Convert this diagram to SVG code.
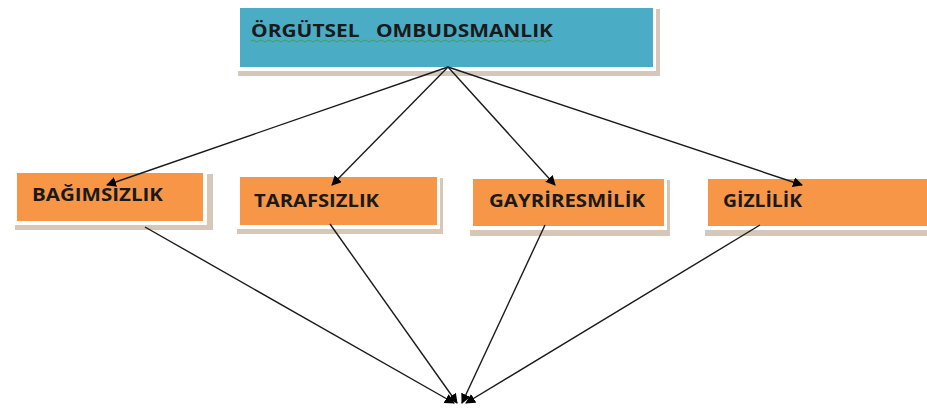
<svg xmlns="http://www.w3.org/2000/svg" width="927" height="411" viewBox="0 0 927 411">
<defs>
<style>
.shadow{fill:#d6c7b8}
.edge{fill:#ffffff}
.top{fill:#4bacc6}
.org{fill:#f79646}
.lbl{font-family:"Open Sans",Lato,"Liberation Sans",sans-serif;font-weight:bold;fill:#1a1a1a;white-space:pre}
.conn{stroke:#1a1a1a;stroke-width:1.4;fill:none;marker-end:url(#ah)}
</style>
<marker id="ah" viewBox="0 0 10 10" refX="9" refY="5" markerWidth="10" markerHeight="10" markerUnits="userSpaceOnUse" orient="auto">
<path d="M0,0 L10,5 L0,10 z" fill="#000"/>
</marker>
</defs>
<rect width="927" height="411" fill="#ffffff"/>
<g id="n-ombudsmanlik">
<rect class="shadow" x="238" y="9" width="422" height="67"/>
<rect class="edge" x="236" y="5" width="420" height="66"/>
<rect class="top" x="240" y="8" width="413" height="59"/>
<text class="lbl" x="251" y="37" font-size="17" textLength="302" lengthAdjust="spacingAndGlyphs" fill="#0d1b33" xml:space="preserve">ÖRGÜTSEL   OMBUDSMANLIK</text>
<path d="M251,41 q2,-2 4,0 t4,0 t4,0 t4,0 t4,0 t4,0 t4,0 t4,0 t4,0 t4,0 t4,0 t4,0 t4,0 t4,0 t4,0 t4,0 t4,0 t4,0 t4,0 t4,0 t4,0 t4,0 t4,0 t4,0 t4,0 t4,0 t4,0 t4,0 t4,0 t4,0 t4,0 t4,0 t4,0 t4,0 t4,0 t4,0 t4,0 t4,0 t4,0 t4,0 t4,0 t4,0 t4,0 t4,0 t4,0 t4,0 t4,0 t4,0 t4,0 t4,0 t4,0 t4,0 t4,0 t4,0 t4,0 t4,0 t4,0 t4,0 t4,0 t4,0 t4,0 t4,0 t4,0 t4,0 t4,0 t4,0 t4,0 t4,0 t4,0 t4,0 t4,0 t4,0 t4,0 t4,0 t4,0" fill="none" stroke="#3fa34d" stroke-width="1"/>
</g>
<g id="n-bagimsizlik">
<rect class="shadow" x="15" y="174" width="198" height="56"/>
<rect class="edge" x="14" y="170" width="193" height="55"/>
<rect class="org" x="17" y="173" width="186" height="48"/>
<text class="lbl" x="32" y="201" font-size="18" textLength="131" lengthAdjust="spacingAndGlyphs">BAĞIMSIZLIK</text>
</g>
<g id="n-tarafsizlik">
<rect class="shadow" x="237" y="178" width="206" height="56"/>
<rect class="edge" x="236" y="174" width="204" height="55"/>
<rect class="org" x="240" y="177" width="197" height="48"/>
<text class="lbl" x="254" y="207" font-size="18" textLength="125" lengthAdjust="spacingAndGlyphs">TARAFSIZLIK</text>
</g>
<g id="n-gayriresmilik">
<rect class="shadow" x="470" y="180" width="200" height="56"/>
<rect class="edge" x="469" y="176" width="198" height="54"/>
<rect class="org" x="473" y="179" width="191" height="47"/>
<text class="lbl" x="489" y="207" font-size="18" textLength="156" lengthAdjust="spacingAndGlyphs">GAYRİRESMİLİK</text>
</g>
<g id="n-gizlilik">
<rect class="shadow" x="705" y="180" width="230" height="56"/>
<rect class="edge" x="704" y="176" width="230" height="54"/>
<rect class="org" x="708" y="179" width="225" height="47"/>
<text class="lbl" x="723" y="207" font-size="18" textLength="79" lengthAdjust="spacingAndGlyphs">GİZLİLİK</text>
</g>
<g id="connectors">
<line class="conn" x1="448" y1="67" x2="107" y2="185"/>
<line class="conn" x1="448" y1="67" x2="332" y2="185"/>
<line class="conn" x1="448" y1="67" x2="555" y2="185"/>
<line class="conn" x1="448" y1="67" x2="802" y2="185"/>
<line class="conn" x1="145" y1="227" x2="454" y2="403"/>
<line class="conn" x1="330" y1="224" x2="457" y2="403"/>
<line class="conn" x1="545" y1="225" x2="462" y2="403"/>
<line class="conn" x1="760" y1="225" x2="466" y2="403"/>
</g>
</svg>
